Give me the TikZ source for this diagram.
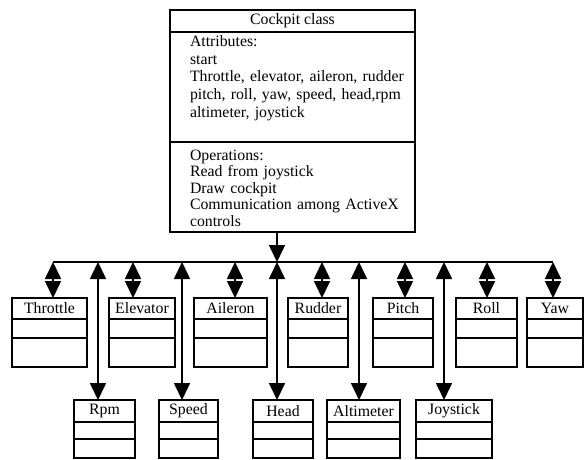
\documentclass[tikz,border=0pt]{standalone}
\usepackage{fontspec}
\setmainfont{Liberation Serif}
\usetikzlibrary{arrows.meta}

\begin{document}
\begin{tikzpicture}[x=1pt,y=1pt,line width=1.7pt,font=\fontsize{15.8}{17.5}\selectfont]

\tikzstyle{titlebox} = [draw, rectangle, inner sep=0pt, outer sep=0pt, anchor=north west]
\tikzstyle{part} = [draw, rectangle, inner sep=0pt, outer sep=0pt, anchor=north west, minimum width=245pt]
\tikzstyle{plain} = [inner sep=0pt, outer sep=0pt, align=left, text width=220pt, anchor=base west]
\tikzstyle{link} = [{Triangle[width=16pt,length=17pt]}-{Triangle[width=16pt,length=17pt]}]
\tikzstyle{feed} = [-{Triangle[width=16pt,length=17pt]}]

\useasboundingbox (0,0) rectangle (586,459);

% cockpit class
\node[titlebox, minimum width=245pt, minimum height=22pt] (cockpit) at (170,449) {Cockpit class};
\node[part, minimum height=110pt] (attrbox) at (cockpit.south west) {};
\node[part, minimum height=90pt] (opbox) at (attrbox.south west) {};
\node[plain] (attr) at (190,412) {Attributes:\\start\\Throttle, elevator, aileron, rudder\\pitch, roll, yaw, speed, head,rpm\\altimeter, joystick};
\node[plain, font=\fontsize{15.8}{16.5}\selectfont] (oper) at (190,299) {Operations:\\Read from joystick\\Draw cockpit\\Communication among ActiveX\\controls};

% upper row of classes
\foreach \nm/\lbl/\xl/\xr/\ax in {throttle/Throttle/12/87/53, elevator/Elevator/109/175/133,
    aileron/Aileron/194/267/235, rudder/Rudder/288/348/322, pitch/Pitch/373/433/405,
    roll/Roll/456/517/487, yaw/Yaw/527/583/553}{
  \pgfmathsetmacro\w{\xr-\xl}
  \node[titlebox, minimum width=\w pt, minimum height=21pt] (\nm) at (\xl,161) {\lbl};
  \draw (\nm.south west) rectangle ++(\w,-19);
  \draw (\nm.south west) ++(0,-19) rectangle ++(\w,-29);
  \coordinate (b\nm) at (\ax,197);
  \draw[link] (b\nm) -- (b\nm |- \nm.north);
}

% lower row of classes
\foreach \nm/\lbl/\xl/\xr/\ax in {rpm/Rpm/74/135/98, speed/Speed/159/218/182,
    head/Head/253/313/277, altimeter/Altimeter/327/400/359, joystick/Joystick/416/492/444}{
  \pgfmathsetmacro\w{\xr-\xl}
  \node[titlebox, minimum width=\w pt, minimum height=22pt] (\nm) at (\xl,59) {\lbl};
  \draw (\nm.south west) rectangle ++(\w,-17);
  \draw (\nm.south west) ++(0,-17) rectangle ++(\w,-19);
  \coordinate (b\nm) at (\ax,197);
  \draw[link] (b\nm) -- (b\nm |- \nm.north);
}

\draw (bthrottle) -- (byaw);
\draw[feed] (opbox.south -| bhead) -- (bhead);

\end{tikzpicture}
\end{document}
